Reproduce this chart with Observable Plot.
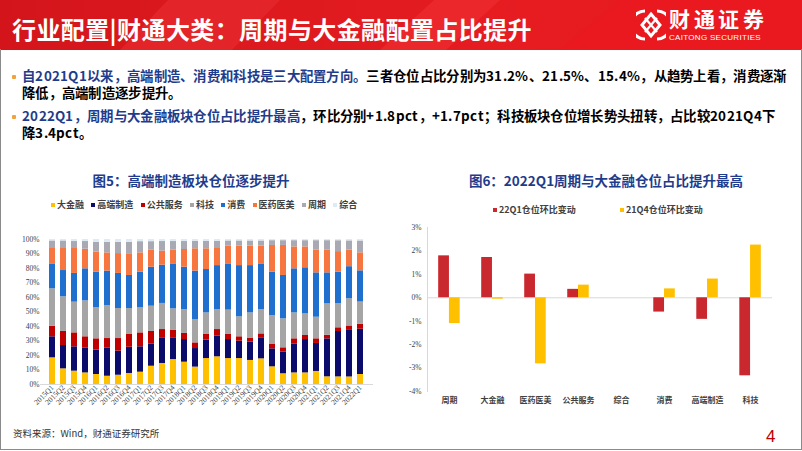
<!DOCTYPE html>
<html>
<head>
<meta charset="utf-8">
<script src="https://cdn.jsdelivr.net/npm/d3@7"></script>
<script src="https://cdn.jsdelivr.net/npm/@observablehq/plot@0.6"></script>
<style>
@font-face{font-family:"CJKTight";src:local("Noto Sans CJK SC Bold"),local("NotoSansCJKsc-Bold");font-weight:700;ascent-override:92%;descent-override:22%;line-gap-override:0%;}
@font-face{font-family:"CJKTight";src:local("Noto Sans CJK SC Regular"),local("NotoSansCJKsc-Regular"),local("Noto Sans CJK SC");font-weight:400;ascent-override:92%;descent-override:22%;line-gap-override:0%;}
html,body{margin:0;padding:0;}
body{width:802px;height:451px;position:relative;overflow:hidden;background:#fff;font-family:"Noto Sans CJK SC","Noto Sans",sans-serif;}
#header{position:absolute;left:0;top:0;width:802px;height:50px;overflow:hidden;
  background:linear-gradient(90deg,#D3151B 0%,#DE1A1F 35%,#E61C21 65%,#E31A20 100%);}
.shape{position:absolute;top:0;height:50px;}
#title{position:absolute;left:12px;top:11px;font-size:24px;font-weight:700;color:#fff;white-space:nowrap;letter-spacing:0.4px;}
#logoText{position:absolute;left:669px;top:9px;color:#fff;font-family:"CJKTight","Noto Sans CJK SC",sans-serif;font-size:21px;line-height:23px;font-weight:700;letter-spacing:3.5px;white-space:nowrap;}
#logoSub{position:absolute;left:669px;top:33px;color:#fff;font-size:8px;line-height:9px;font-family:"Liberation Sans",Arial,sans-serif;white-space:nowrap;letter-spacing:0.3px;}
#frame{position:absolute;left:0;top:49px;width:800px;height:400px;border:1px solid #8a8a8a;border-top:none;}
.para{position:absolute;left:22px;font-family:"CJKTight","Noto Sans CJK SC",sans-serif;font-size:13.4px;letter-spacing:0.3px;font-weight:700;color:#000;white-space:nowrap;}
.para div.ln{height:17px;line-height:17px;}
.b{color:#1F3C8C;}
.dot{position:absolute;left:-10px;top:7px;width:4px;height:4px;background:#F2A23A;border-radius:1px;}
.ftitle{position:absolute;top:170px;font-size:13.5px;font-weight:700;color:#1F3C8C;white-space:nowrap;transform:translateX(-50%);}
.leg{position:absolute;font-size:9px;font-weight:700;color:#404040;white-space:nowrap;display:flex;align-items:center;}
.leg span.sw{display:inline-block;width:4px;height:4px;margin-right:2px;}
#src{position:absolute;left:13px;top:426px;font-size:9.5px;color:#333;white-space:nowrap;}
#pg{position:absolute;left:766px;top:427px;font-size:17px;color:#C00000;font-family:"Liberation Sans",Arial,sans-serif;}
#c1{position:absolute;left:0;top:230px;}
#c2{position:absolute;left:400px;top:215px;}
</style>
</head>
<body>
<div id="header">
  <div class="shape" style="left:120px;width:160px;background:#E3262A;clip-path:polygon(30% 0,100% 0,70% 100%,0 100%);opacity:0.9"></div>
  <div class="shape" style="left:380px;width:120px;background:#EC2B2E;clip-path:polygon(45% 0,100% 0,55% 100%,0 100%);opacity:0.8"></div>
  <div class="shape" style="left:560px;width:242px;background:#E9191F;clip-path:polygon(25% 0,100% 0,100% 100%,0 100%);"></div>
  <div id="title">行业配置|财通大类：周期与大金融配置占比提升</div>
  <svg style="position:absolute;left:636px;top:8px" width="30" height="34" viewBox="0 0 30 34">
    <path d="M9 3 A14 14 0 0 0 9 31" fill="none" stroke="#fff" stroke-width="3.2"/>
    <path d="M21 3 A14 14 0 0 1 21 31" fill="none" stroke="#fff" stroke-width="3.2"/>
    <path d="M15 6 L24 17 L15 28 L6 17 Z" fill="none" stroke="#fff" stroke-width="3"/>
    <path d="M9 10 L21 24 M21 10 L9 24" stroke="#fff" stroke-width="2.2"/>
  </svg>
  <div id="logoText">财通证券</div>
  <div id="logoSub">CAITONG SECURITIES</div>
</div>
<div id="frame"></div>

<div class="para" style="top:68px">
  <div class="dot"></div>
  <div class="ln"><span class="b">自2021Q1以来，高端制造、消费和科技是三大配置方向。</span>三者仓位占比分别为31.2%、21.5%、15.4%，从趋势上看，消费逐渐</div>
  <div class="ln">降低，高端制造逐步提升。</div>
</div>
<div class="para" style="top:108px">
  <div class="dot"></div>
  <div class="ln"><span class="b">2022Q1，周期与大金融板块仓位占比提升最高</span>，环比分别+1.8pct，+1.7pct；科技板块仓位增长势头扭转，占比较2021Q4下</div>
  <div class="ln">降3.4pct。</div>
</div>

<div class="ftitle" style="left:191px">图5：高端制造板块仓位逐步提升</div>
<div class="ftitle" style="left:606px">图6：2022Q1周期与大金融仓位占比提升最高</div>

<div id="leg1"></div>
<div id="leg2"></div>
<div id="c1"></div>
<div id="c2"></div>

<div id="src">资料来源：Wind，财通证券研究所</div>
<div id="pg">4</div>

<script>
// ---------- Figure 5 data ----------
const quarters = ["2015Q1","2015Q2","2015Q3","2015Q4","2016Q1","2016Q2","2016Q3","2016Q4",
  "2017Q1","2017Q2","2017Q3","2017Q4","2018Q1","2018Q2","2018Q3","2018Q4",
  "2019Q1","2019Q2","2019Q3","2019Q4","2020Q1","2020Q2","2020Q3","2020Q4",
  "2021Q1","2021Q2","2021Q3","2021Q4","2022Q1"];
const sectors = ["大金融","高端制造","公共服务","科技","消费","医药医美","周期","综合"];
const sectorColors = ["#FFC000","#0B0B6B","#C00000","#A5A5A5","#1F6FCF","#F7763F","#A9A9B3","#DDEBF7"];
const finance  = [18.4,10.8,9.2,8.0,6.9,5.7,6.4,7.6,8.5,12.6,14.5,17.2,15.4,12.0,17.9,19.1,17.9,17.9,16.6,17.7,12.2,7.4,8.0,8.0,9.0,5.3,5.25,5.2,6.9];
const highEnd  = [14.5,16.1,16.8,17.0,16.8,19.3,16.6,18.1,17.5,15.4,17.7,15.0,15.6,12.8,12.7,14.2,13.1,12.0,12.6,14.5,12.4,14.9,20.0,23.0,19.3,26.2,31.3,32.1,31.2];
const utility  = [7.3,9.7,9.6,7.9,7.8,6.7,8.7,8.8,9.6,8.6,5.7,5.3,4.2,3.9,3.9,4.6,3.5,3.0,2.8,2.7,3.0,3.0,3.5,2.8,3.2,2.5,2.55,3.05,3.4];
const tech     = [25.8,23.9,21.2,24.8,21.4,22.8,20.7,17.9,17.3,17.4,18.0,14.7,16.5,15.9,14.9,13.8,16.8,13.8,17.4,16.8,20.0,20.0,17.9,14.9,14.9,21.6,16.6,18.8,15.4];
const consumer = [16.8,18.1,19.8,22.1,24.6,23.7,24.2,22.8,24.6,26.9,26.4,30.6,29.2,33.6,29.9,30.3,31.5,35.3,32.6,31.1,29.9,29.9,30.4,31.8,30.6,21.4,21.75,22.1,21.5];
const pharma   = [11.0,15.2,17.2,13.5,13.8,12.6,13.7,14.5,13.3,11.7,9.7,9.8,12.2,15.4,14.3,11.8,12.6,13.4,13.4,12.6,18.4,20.7,15.1,14.4,15.6,15.6,14.2,11.4,12.4];
const cyclical = [5.2,5.2,4.8,5.3,6.7,7.2,7.7,8.3,7.7,5.9,6.6,6.0,5.5,5.2,5.2,5.0,3.6,3.6,3.6,3.6,3.3,3.3,4.3,4.3,6.6,6.6,7.5,6.4,8.2];
const misc     = [1.0,1.0,1.4,1.4,2.0,2.0,2.0,2.0,1.5,1.5,1.4,1.4,1.4,1.2,1.2,1.2,1.0,1.0,1.0,1.0,0.8,0.8,0.8,0.8,0.8,0.8,0.85,0.95,1.0];
const yTicks1 = [0,10,20,30,40,50,60,70,80,90,100];

// ---------- Figure 6 data ----------
const categories = ["周期","大金融","医药医美","公共服务","综合","消费","高端制造","科技"];
const seriesNames = ["22Q1仓位环比变动","21Q4仓位环比变动"];
const seriesColors = ["#C8282E","#FFC000"];
const chg22Q1 = [1.79,1.72,1.01,0.36,0,-0.61,-0.92,-3.33];
const chg21Q4 = [-1.10,-0.06,-2.82,0.54,0,0.38,0.80,2.25];
const yTicks2 = [-4,-3,-2,-1,0,1,2,3];

// ---------- legends ----------
function legend(el, names, colors, left, top, gaps) {
  const box = document.getElementById(el);
  box.className = "leg";
  box.style.left = left + "px";
  box.style.top = top + "px";
  names.forEach((n, i) => {
    const item = document.createElement("span");
    item.style.display = "inline-flex";
    item.style.alignItems = "center";
    item.style.marginRight = gaps + "px";
    item.innerHTML = `<span class="sw" style="background:${colors[i]}"></span>${n}`;
    box.appendChild(item);
  });
}
legend("leg1", sectors, sectorColors, 51, 198, 7.3);
legend("leg2", seriesNames, seriesColors, 493, 203, 44);

// ---------- Figure 5 ----------
const rows1 = quarters.flatMap((q, i) => {
  const vals = [finance, highEnd, utility, tech, consumer, pharma, cyclical, misc];
  return sectors.map((s, j) => ({q, s, v: vals[j][i]}));
});
const chart1 = Plot.plot({
  width: 380, height: 194,
  marginLeft: 40, marginRight: 7, marginTop: 9, marginBottom: 40,
  style: {fontFamily: "'Liberation Serif', serif", fontSize: "7.5px", color: "#404040", background: "transparent"},
  x: {domain: quarters, paddingInner: 0.45, paddingOuter: 0.45, label: null, tickRotate: -45, tickSize: 0, tickPadding: 2},
  y: {domain: [0, 100], ticks: yTicks1, tickFormat: d => d + "%", label: null, tickSize: 0, tickPadding: 1},
  color: {domain: sectors, range: sectorColors},
  marks: [
    Plot.barY(rows1, {x: "q", y: "v", fill: "s"}),
    Plot.ruleY([0], {stroke: "#D9D9D9"})
  ]
});
document.getElementById("c1").appendChild(chart1);

// ---------- Figure 6 ----------
const rows2 = categories.flatMap((c, i) => [
  {c, s: seriesNames[0], v: chg22Q1[i]},
  {c, s: seriesNames[1], v: chg21Q4[i]}
]);
const W2 = 402, ML2 = 27, MR2 = 30, PI = 0.5, PO = 0.26;
const step2 = (W2 - ML2 - MR2) / (categories.length - PI + 2 * PO);
const half2 = step2 * (1 - PI) / 2;
const chart2 = Plot.plot({
  width: W2, height: 201,
  marginLeft: ML2, marginRight: MR2, marginTop: 12, marginBottom: 25,
  style: {fontFamily: "'Liberation Serif', serif", fontSize: "7.5px", color: "#404040", background: "transparent"},
  x: {domain: categories, paddingInner: PI, paddingOuter: PO, round: false, label: null, tickSize: 0, tickPadding: 6},
  y: {domain: [-4, 3], ticks: yTicks2, tickFormat: d => d + "%", label: null, tickSize: 0, tickPadding: 6},
  color: {domain: seriesNames, range: seriesColors},
  marks: [
    Plot.frame({anchor: "left", stroke: "#D9D9D9"}),
    Plot.ruleY([0], {stroke: "#D9D9D9"}),
    Plot.barY(rows2.filter(d => d.s === seriesNames[0]), {x: "c", y: "v", fill: "s", insetRight: half2}),
    Plot.barY(rows2.filter(d => d.s === seriesNames[1]), {x: "c", y: "v", fill: "s", insetLeft: half2})
  ]
});
chart2.querySelectorAll('g[aria-label="x-axis tick label"] text').forEach(t => { t.style.fontWeight = "700"; t.style.fontSize = "8px"; t.style.fontFamily = "'Noto Sans CJK SC', sans-serif"; });
document.getElementById("c2").appendChild(chart2);
</script>
</body>
</html>
